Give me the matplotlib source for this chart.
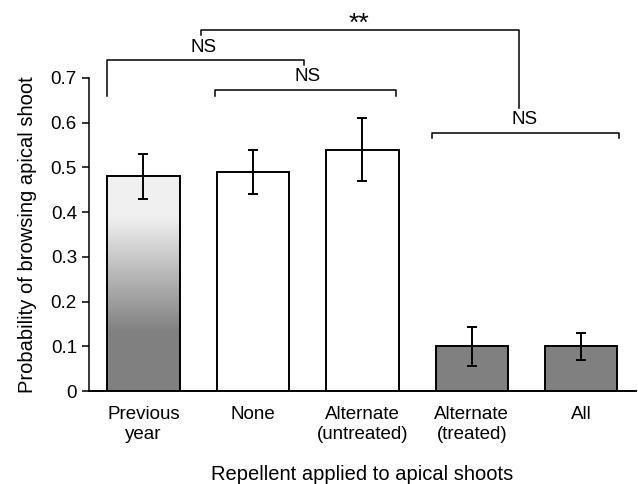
import matplotlib
matplotlib.use("Agg")
import matplotlib.pyplot as plt
import numpy as np

plt.rcParams['font.family'] = ['Liberation Sans', 'DejaVu Sans']

# data
categories = ["Previous\nyear", "None", "Alternate\n(untreated)", "Alternate\n(treated)", "All"]
probs = [0.48, 0.49, 0.54, 0.10, 0.10]
errs = [0.05, 0.05, 0.07, 0.043, 0.03]
fills = ["gradient", "white", "white", "#808080", "#808080"]
ytick_vals = [0, 0.1, 0.2, 0.3, 0.4, 0.5, 0.6, 0.7]
ytick_labels = ["0", "0.1", "0.2", "0.3", "0.4", "0.5", "0.6", "0.7"]

# significance brackets: (x1, x2, y, left leg end, right leg end, label, label x, label y)
brackets = [
    (0.53, 3.43, 0.808, 0.795, 0.632, "**", 1.97, 0.793),
    (-0.33, 1.47, 0.739, 0.659, 0.728, "NS", 0.55, 0.750),
    (0.65, 2.31, 0.673, 0.659, 0.659, "NS", 1.50, 0.685),
    (2.64, 4.34, 0.578, 0.566, 0.566, "NS", 3.48, 0.588),
]

fig = plt.figure(figsize=(6.38, 4.84), dpi=100)
ax = fig.add_axes([0.139, 0.192, 0.858, 0.647])

x = np.arange(len(categories))
width = 0.66
bars = ax.bar(x, probs, width=width, color=[c if c != "gradient" else "none" for c in fills],
              edgecolor="black", linewidth=1.4, zorder=3)

# gradient fill for the first bar
for b, f in zip(bars, fills):
    if f == "gradient":
        x0, w, h = b.get_x(), b.get_width(), b.get_height()
        ys = np.linspace(0, h, 200)
        light, dark = 0.94, 0.50
        t = np.clip((ys - 0.13) / (0.39 - 0.13), 0, 1)
        grad = (dark + (light - dark) * t)[:, None]
        im = ax.imshow(grad, cmap="gray", vmin=0, vmax=1, aspect="auto",
                       extent=[x0, x0 + w, 0, h], origin="lower", zorder=2)
        im.set_clip_path(b)

ax.errorbar(x, probs, yerr=errs, fmt="none", ecolor="black", elinewidth=1.4,
            capsize=3.5, capthick=1.4, zorder=4)

for x1, x2, y, l1, l2, lab, lx, ly in brackets:
    ax.plot([x1, x1, x2, x2], [l1, y, y, l2], color="black", lw=1.1, clip_on=False)
    fs = 19 if lab == "**" else 13.5
    ax.text(lx, ly, lab, ha="center", va="bottom", fontsize=fs, clip_on=False)

ax.set_xlim(-0.5, 4.5)
ax.set_ylim(0, 0.7)
ax.set_xticks(x)
ax.set_xticklabels(categories, fontsize=13.5)
ax.tick_params(axis="x", length=0, pad=11)
ax.set_yticks(ytick_vals)
ax.set_yticklabels(ytick_labels, fontsize=13.5)
ax.tick_params(axis="y", length=5, width=1.1, direction="out")
ax.spines["top"].set_visible(False)
ax.spines["right"].set_visible(False)
ax.spines["left"].set_linewidth(1.1)
ax.spines["bottom"].set_linewidth(1.4)
ax.set_ylabel("Probability of browsing apical shoot", fontsize=14.5, labelpad=10)
ax.set_xlabel("Repellent applied to apical shoots", fontsize=14.5, labelpad=16)

fig.savefig("out.png", dpi=100)
